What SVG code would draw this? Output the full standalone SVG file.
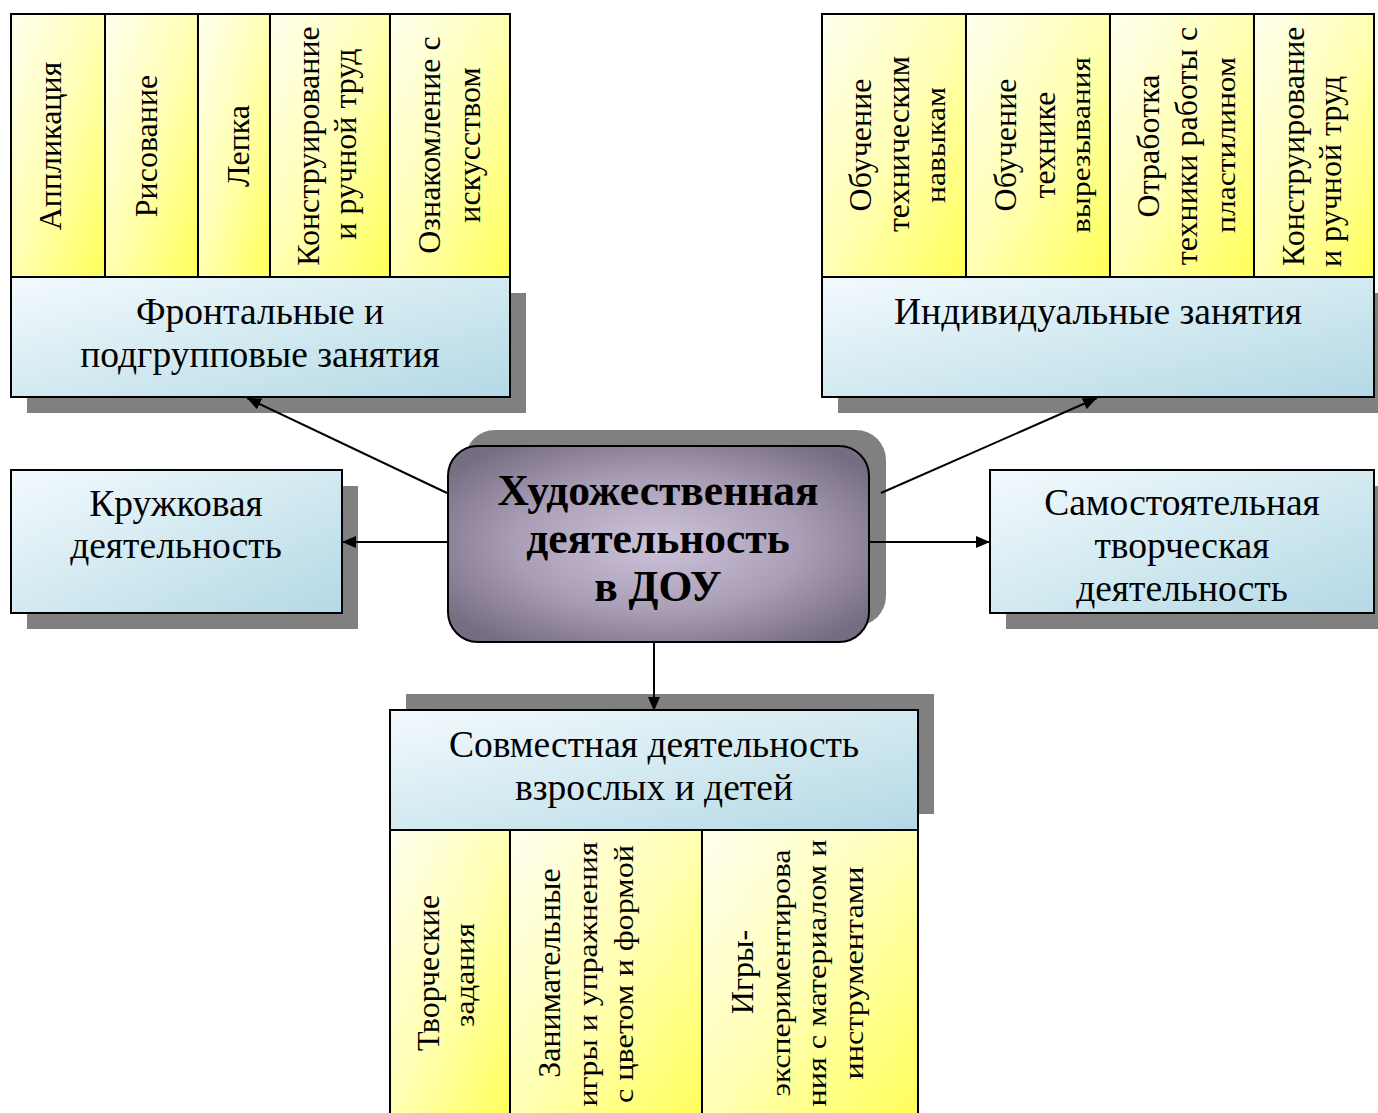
<svg xmlns="http://www.w3.org/2000/svg" width="1378" height="1113" viewBox="0 0 1378 1113">
<style>
text{font-family:"Liberation Serif","Times New Roman",serif;fill:#000}
.h{font-size:37.5px;text-anchor:middle}
.v{font-size:32px;text-anchor:middle}
.vs{font-size:32px;text-anchor:start}
.c{font-size:27px;text-anchor:middle}
.t{font-size:43.5px;font-weight:bold;text-anchor:middle}
.sh{fill:#808080}
.y{fill:url(#gY);stroke:#000;stroke-width:2}
.b{fill:url(#gB);stroke:#000;stroke-width:2}
</style>
<defs>
<linearGradient id="gY" x1="0" y1="0" x2="1" y2="1">
<stop offset="0" stop-color="#fffff0"/>
<stop offset="0.5" stop-color="#ffffb4"/>
<stop offset="1" stop-color="#ffff58"/>
</linearGradient>
<linearGradient id="gB" x1="0" y1="0" x2="1" y2="1">
<stop offset="0" stop-color="#f3fafd"/>
<stop offset="1" stop-color="#b3d9e5"/>
</linearGradient>
<radialGradient id="gC" cx="0.5" cy="0.5" r="0.62">
<stop offset="0" stop-color="#cdc3da"/>
<stop offset="0.55" stop-color="#a99eb5"/>
<stop offset="1" stop-color="#776d83"/>
</radialGradient>
<marker id="ah" markerUnits="userSpaceOnUse" markerWidth="14" markerHeight="12" refX="14" refY="6" orient="auto">
<path d="M0,0 L14,6 L0,12 z" fill="#000"/>
</marker>
</defs>

<g id="frontal">
<rect class="sh" x="27" y="293" width="499" height="120"/>
<rect class="y" x="11" y="14" width="94" height="263"/>
<rect class="y" x="105" y="14" width="93" height="263"/>
<rect class="y" x="198" y="14" width="72" height="263"/>
<rect class="y" x="270" y="14" width="120" height="263"/>
<rect class="y" x="390" y="14" width="120" height="263"/>
<rect class="b" x="11" y="277" width="499" height="120"/>
<text class="v" transform="translate(61,146) rotate(-90)">Аппликация</text>
<text class="v" transform="translate(157,146) rotate(-90)">Рисование</text>
<text class="v" transform="translate(249,146) rotate(-90)">Лепка</text>
<text class="v" transform="translate(319,146) rotate(-90)">Конструирование</text>
<text class="v" transform="translate(356,144) rotate(-90)">и ручной труд</text>
<text class="v" transform="translate(440,145) rotate(-90)">Ознакомление с</text>
<text class="v" transform="translate(480,145) rotate(-90)">искусством</text>
<text class="h" x="260" y="324">Фронтальные и</text>
<text class="h" x="260" y="367">подгрупповые занятия</text>
</g>

<g id="individual">
<rect class="sh" x="838" y="293" width="552" height="120"/>
<rect class="y" x="822" y="14" width="144" height="263"/>
<rect class="y" x="966" y="14" width="144" height="263"/>
<rect class="y" x="1110" y="14" width="144" height="263"/>
<rect class="y" x="1254" y="14" width="120" height="263"/>
<rect class="b" x="822" y="277" width="552" height="120"/>
<text class="v" transform="translate(871,145) rotate(-90)">Обучение</text>
<text class="v" transform="translate(909,144) rotate(-90)">техническим</text>
<text class="c" transform="translate(945,145) rotate(-90)" textLength="116" lengthAdjust="spacingAndGlyphs">навыкам</text>
<text class="v" transform="translate(1016,145) rotate(-90)">Обучение</text>
<text class="v" transform="translate(1055,145) rotate(-90)">технике</text>
<text class="c" transform="translate(1090,145) rotate(-90)" textLength="176" lengthAdjust="spacingAndGlyphs">вырезывания</text>
<text class="v" transform="translate(1159,146) rotate(-90)">Отработка</text>
<text class="v" transform="translate(1197,146) rotate(-90)">техники работы с</text>
<text class="c" transform="translate(1235,145) rotate(-90)" textLength="176" lengthAdjust="spacingAndGlyphs">пластилином</text>
<text class="vs" transform="translate(1304,266) rotate(-90)">Конструирование</text>
<text class="vs" transform="translate(1341,267) rotate(-90)">и ручной труд</text>
<text class="h" x="1098" y="324">Индивидуальные занятия</text>
</g>

<g id="circle-activity">
<rect class="sh" x="27" y="486" width="331" height="143"/>
<rect class="b" x="11" y="470" width="331" height="143"/>
<text class="h" x="176" y="516">Кружковая</text>
<text class="h" x="176" y="558">деятельность</text>
</g>

<g id="independent">
<rect class="sh" x="1006" y="486" width="384" height="143"/>
<rect class="b" x="990" y="470" width="384" height="143"/>
<text class="h" x="1182" y="515">Самостоятельная</text>
<text class="h" x="1182" y="558">творческая</text>
<text class="h" x="1182" y="601">деятельность</text>
</g>

<g id="joint">
<rect class="sh" x="406" y="694" width="528" height="120"/>
<rect class="b" x="390" y="710" width="528" height="120"/>
<rect class="y" x="390" y="830" width="120" height="292"/>
<rect class="y" x="510" y="830" width="192" height="292"/>
<rect class="y" x="702" y="830" width="216" height="292"/>
<text class="h" x="654" y="757">Совместная деятельность</text>
<text class="h" x="654" y="800">взрослых и детей</text>
<text class="v" transform="translate(439,973) rotate(-90)">Творческие</text>
<text class="c" transform="translate(474,975) rotate(-90)" textLength="104" lengthAdjust="spacingAndGlyphs">задания</text>
<text class="v" transform="translate(560,973) rotate(-90)">Занимательные</text>
<text class="c" transform="translate(597,974) rotate(-90)" textLength="265" lengthAdjust="spacingAndGlyphs">игры и упражнения</text>
<text class="c" transform="translate(633,974) rotate(-90)" textLength="258" lengthAdjust="spacingAndGlyphs">с цветом и формой</text>
<text class="v" transform="translate(753,972) rotate(-90)">Игры-</text>
<text class="c" transform="translate(790,973) rotate(-90)" textLength="247" lengthAdjust="spacingAndGlyphs">экспериментирова</text>
<text class="c" transform="translate(826,973) rotate(-90)" textLength="267" lengthAdjust="spacingAndGlyphs">ния с материалом и</text>
<text class="c" transform="translate(863,973) rotate(-90)" textLength="213" lengthAdjust="spacingAndGlyphs">инструментами</text>
</g>

<g id="center">
<rect class="sh" x="465" y="430" width="421" height="196" rx="30"/>
<rect x="448" y="446" width="421" height="196" rx="30" fill="url(#gC)" stroke="#000" stroke-width="2"/>
<text class="t" x="658" y="505">Художественная</text>
<text class="t" x="658" y="553">деятельность</text>
<text class="t" x="658" y="601">в ДОУ</text>
</g>

<g id="connectors" stroke="#000" stroke-width="2" fill="none">
<line x1="447" y1="493" x2="247" y2="398" marker-end="url(#ah)"/>
<line x1="881" y1="493" x2="1097" y2="398" marker-end="url(#ah)"/>
<line x1="448" y1="542" x2="342" y2="542" marker-end="url(#ah)"/>
<line x1="869" y1="542" x2="990" y2="542" marker-end="url(#ah)"/>
<line x1="654" y1="642" x2="654" y2="711" marker-end="url(#ah)"/>
</g>
</svg>
